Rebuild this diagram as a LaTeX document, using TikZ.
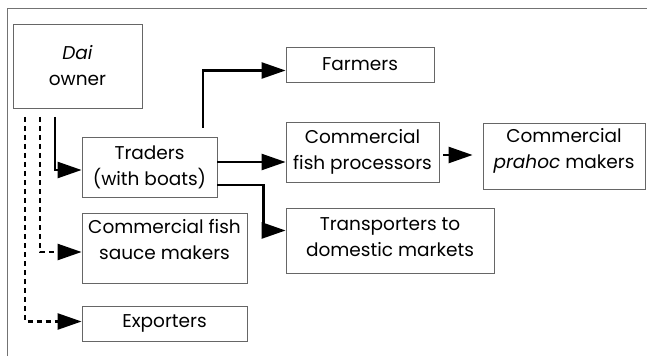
\documentclass[tikz,border=0pt]{standalone}
\usepackage{fontspec}
\setmainfont{Poppins}
\usetikzlibrary{arrows.meta}

\begin{document}
\begin{tikzpicture}[x = 1pt, y = -1pt,
  box/.style = {draw = black!60, line width = .8pt, align = center, inner sep = 0, font = \fontsize{18.5}{26}\selectfont},
  flow/.style = {line width = 2.4pt, -{Triangle[length = 24pt, width = 16pt]}},
  side/.style = {flow, dash pattern = on 5pt off 4pt}]
 \useasboundingbox (0, 0) rectangle (647, 358);
 \draw[black!55, line width = 1pt] (7, 356) -- (7, 9) -- (647, 9);
 % the boxes
 \node (dai) at (77.5, 66) [box, minimum width = 129, minimum height = 84] {\textit{Dai}\\owner};
 \node (farm) at (360, 64.5) [box, minimum width = 148, minimum height = 35] {Farmers};
 \node (trad) at (149.5, 167) [box, minimum width = 135, minimum height = 60] {Traders\\(with boats)};
 \node (proc) at (362.5, 152) [box, minimum width = 153, minimum height = 60] {Commercial\\fish processors};
 \node (prah) at (564, 156) [box, minimum width = 162, minimum height = 66, text depth = 16pt] {Commercial\\\textit{prahoc} makers};
 \node (sauce) at (164.5, 248) [box, minimum width = 165, minimum height = 70, text depth = 17pt] {Commercial fish\\sauce makers};
 \node (trans) at (390, 240.5) [box, minimum width = 208, minimum height = 65, text depth = 7pt] {Transporters to\\domestic markets};
 \node (expo) at (164.5, 323.5) [box, minimum width = 165, minimum height = 35] {Exporters};
 % starts below the owner
 \coordinate (d1) at (25, 117);
 \coordinate (d2) at (40, 117);
 \coordinate (d3) at (55, 117);
 \coordinate (t1) at (203, 128);
 \draw[flow] (d3) |- ([yshift = -3pt]trad.west);
 \draw[side] (d2) |- ([yshift = -4pt]sauce.west);
 \draw[side] (d1) |- ([yshift = 2pt]expo.west);
 \draw[flow] (t1) |- ([yshift = -6pt]farm.west);
 \draw[flow] ([yshift = 5pt]trad.east) -- ([yshift = 5pt]trad.east -| proc.west);
 \draw[flow] ([yshift = -18pt]trad.east) -- ++(46, 0) |- ([yshift = 10pt]trans.west);
 \draw[flow] ([xshift = 4pt, yshift = -3pt]proc.east) -- ([xshift = -10pt, yshift = -3pt]proc.east -| prah.west);
\end{tikzpicture}
\end{document}
